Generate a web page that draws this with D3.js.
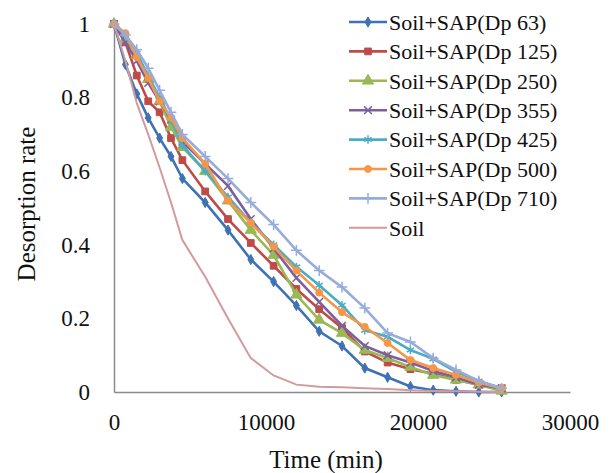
<!DOCTYPE html>
<html>
<head>
<meta charset="utf-8">
<script src="https://cdn.jsdelivr.net/npm/d3@7"></script>
<style>
  body { margin: 0; background: #fff; }
  text { font-family: "Liberation Serif", "Times New Roman", serif; fill: #111; }
</style>
</head>
<body>
<div id="chart"></div>
<script>
var width = 610
var height = 473

// time points (min)
var time = [0, 750, 1500, 2250, 3000, 3750, 4500, 6000, 7500, 9000, 10500, 12000, 13500, 15000, 16500, 18000, 19500, 21000, 22500, 24000, 25500]

var dp63  = [1, 0.89, 0.81, 0.745, 0.69, 0.64, 0.58, 0.515, 0.44, 0.36, 0.30, 0.235, 0.165, 0.125, 0.065, 0.04, 0.015, 0.005, 0.002, 0, 0]
var dp125 = [1, 0.95, 0.86, 0.79, 0.76, 0.69, 0.63, 0.545, 0.47, 0.405, 0.343, 0.28, 0.225, 0.174, 0.11, 0.08, 0.062, 0.05, 0.033, 0.02, 0.01]
var dp250 = [1, 0.96, 0.915, 0.85, 0.79, 0.72, 0.665, 0.6, 0.52, 0.44, 0.372, 0.264, 0.196, 0.16, 0.114, 0.092, 0.068, 0.046, 0.033, 0.02, 0.003]
var dp355 = [1, 0.95, 0.9, 0.84, 0.79, 0.74, 0.68, 0.62, 0.56, 0.47, 0.39, 0.31, 0.245, 0.18, 0.125, 0.1, 0.08, 0.057, 0.04, 0.02, 0.01]
var dp425 = [1, 0.97, 0.92, 0.86, 0.8, 0.74, 0.67, 0.6, 0.53, 0.46, 0.4, 0.34, 0.29, 0.236, 0.168, 0.15, 0.114, 0.09, 0.055, 0.03, 0.01]
var dp500 = [1, 0.975, 0.91, 0.853, 0.79, 0.745, 0.69, 0.62, 0.52, 0.46, 0.395, 0.33, 0.27, 0.217, 0.177, 0.133, 0.087, 0.065, 0.046, 0.025, 0.01]
var dp710 = [1, 0.97, 0.93, 0.88, 0.82, 0.76, 0.7, 0.64, 0.58, 0.515, 0.455, 0.385, 0.33, 0.285, 0.228, 0.16, 0.136, 0.092, 0.06, 0.03, 0.01]
var soil  = [1, 0.9, 0.785, 0.7, 0.61, 0.515, 0.413, 0.313, 0.2, 0.092, 0.045, 0.02, 0.014, 0.013, 0.01, 0.008, 0.005, 0.003, 0.002, 0.001, 0]

var names = ["Soil+SAP(Dp 63)", "Soil+SAP(Dp 125)", "Soil+SAP(Dp 250)", "Soil+SAP(Dp 355)", "Soil+SAP(Dp 425)", "Soil+SAP(Dp 500)", "Soil+SAP(Dp 710)", "Soil"]
var xTicks = [0, 10000, 20000, 30000]
var yTicks = [0, 0.2, 0.4, 0.6, 0.8, 1]

var colors = ["#3F72B5", "#BE4B48", "#98B954", "#7D5FA0", "#4BACC6", "#F79646", "#97ACDA", "#D39A9E"]
var shapes = [d3.symbolDiamond, d3.symbolSquare, d3.symbolTriangle, d3.symbolTimes, d3.symbolAsterisk, d3.symbolCircle, d3.symbolPlus, null]
var sizes = [30, 45, 55, 40, 50, 38, 40, 0]
var strokeSym = [false, false, false, true, true, false, true, false]
var allSeries = [dp63, dp125, dp250, dp355, dp425, dp500, dp710, soil]

var svg = d3.select("#chart").append("svg")
    .attr("width", width)
    .attr("height", height)

var x = d3.scaleLinear().domain([0, 30000]).range([114, 570])
var y = d3.scaleLinear().domain([0, 1]).range([392, 24])

// axes
var xAxis = svg.append("g")
    .attr("transform", "translate(0,392)")
    .call(d3.axisBottom(x).tickValues(xTicks).tickSize(0).tickPadding(22).tickFormat(d3.format("d")))
var yAxis = svg.append("g")
    .attr("transform", "translate(114,0)")
    .call(d3.axisLeft(y).tickValues(yTicks).tickSize(0).tickPadding(24).tickFormat(d => d === 0 || d === 1 ? d : d3.format(".1f")(d)))
xAxis.select(".domain").attr("stroke", "#8a8a8a").attr("stroke-width", 1.5)
yAxis.select(".domain").attr("stroke", "#8a8a8a").attr("stroke-width", 1.5)
svg.selectAll(".tick text").attr("font-size", 23).attr("font-family", "Liberation Serif").attr("fill", "#111")

svg.append("text")
    .attr("x", 326).attr("y", 468)
    .attr("text-anchor", "middle")
    .attr("font-size", 25)
    .text("Time (min)")
svg.append("text")
    .attr("transform", "translate(35,204) rotate(-90)")
    .attr("text-anchor", "middle")
    .attr("font-size", 25)
    .text("Desorption rate")

var line = d3.line().x((d, i) => x(time[i])).y(d => y(d))

allSeries.forEach(function(vals, k) {
  svg.append("path")
    .datum(vals)
    .attr("fill", "none")
    .attr("stroke", colors[k])
    .attr("stroke-width", k === 7 ? 2 : 2.6)
    .attr("d", line)
  if (shapes[k]) {
    svg.append("g").selectAll("path").data(vals).enter().append("path")
      .attr("transform", (d, i) => "translate(" + x(time[i]) + "," + y(d) + ")")
      .attr("d", d3.symbol().type(shapes[k]).size(sizes[k]))
      .attr("fill", strokeSym[k] ? "none" : colors[k])
      .attr("stroke", colors[k])
      .attr("stroke-width", strokeSym[k] ? 1.5 : 1)
  }
})

// legend
var legend = svg.append("g")
names.forEach(function(n, k) {
  var ly = 22 + k * 29.4
  legend.append("line")
    .attr("x1", 349).attr("x2", 387).attr("y1", ly).attr("y2", ly)
    .attr("stroke", colors[k]).attr("stroke-width", k === 7 ? 2 : 2.6)
  if (shapes[k]) {
    legend.append("path")
      .attr("transform", "translate(368," + ly + ")")
      .attr("d", d3.symbol().type(shapes[k]).size(sizes[k]))
      .attr("fill", strokeSym[k] ? "none" : colors[k])
      .attr("stroke", colors[k])
      .attr("stroke-width", strokeSym[k] ? 1.5 : 1)
  }
  legend.append("text")
    .attr("x", 389).attr("y", ly)
    .attr("dy", "0.35em")
    .attr("font-size", 22)
    .text(n)
})
</script>
</body>
</html>
